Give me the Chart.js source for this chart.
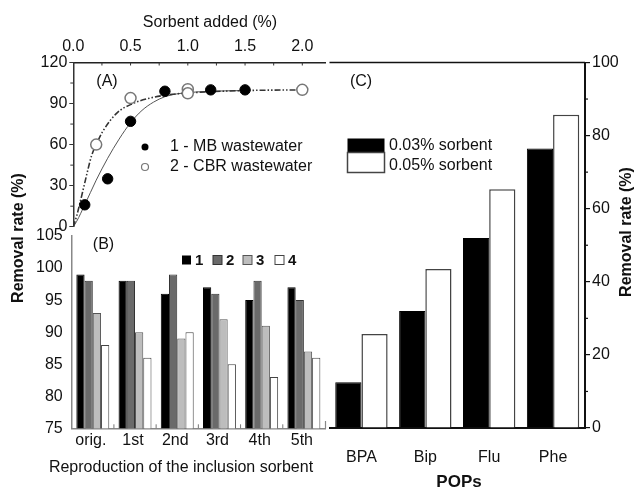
<!DOCTYPE html>
<html><head><meta charset="utf-8">
<script src="https://cdn.jsdelivr.net/npm/chart.js@4.4.0/dist/chart.umd.min.js"></script>
<style>
html,body{margin:0;padding:0;background:#fff;}
#wrap{position:relative;width:636px;height:487px;background:#fff;}
canvas{position:absolute;left:0;top:0;}
</style></head><body>
<div id="wrap">
<canvas id="cB" width="636" height="487"></canvas>
<canvas id="cC" width="636" height="487"></canvas>
<canvas id="cA" width="636" height="487"></canvas>
</div>
<script>
// ---------- Panel A : removal vs sorbent added ----------
const seriesA = ['1 - MB wastewater', '2 - CBR wastewater'];
const mbDose = [0.1, 0.3, 0.5, 0.8, 1.2, 1.5];
const mbRemoval = [16, 35, 77, 99, 100, 100];
const cbrDose = [0.2, 0.5, 1.0, 1.0, 2.0];
const cbrRemoval = [60, 94, 100.5, 97.5, 100];
// fitted curves
const mbFitDose = [0, 0.03, 0.1, 0.2, 0.3, 0.4, 0.5, 0.6, 0.7, 0.8, 0.9, 1.0, 1.2, 1.5];
const mbFitRemoval = [0, 4, 16, 34, 50, 64, 76, 85, 91, 95, 97, 98, 99, 99.5];
const cbrFitDose = [0, 0.03, 0.06, 0.1, 0.16, 0.2, 0.26, 0.38, 0.52, 0.67, 0.84, 1.05, 1.5, 2.0];
const cbrFitRemoval = [0, 8, 18, 32, 52, 60, 70, 83, 90, 94, 96.5, 98, 99.5, 100];
const doseTicks = [0, 0.5, 1.0, 1.5, 2.0];
const doseMinorTicks = [0.25, 0.5, 0.75, 1.0, 1.25, 1.5, 1.75, 2.0];
const removalATicks = [0, 30, 60, 90, 120];
const removalAMinor = [15, 45, 75, 105];

// ---------- Panel B : reproduction cycles ----------
const cycles = ['orig.', '1st', '2nd', '3rd', '4th', '5th'];
const seriesB = ['1', '2', '3', '4'];
const run1 = [99, 98, 96, 97, 95, 97];
const run2 = [98, 98, 99, 96, 98, 95];
const run3 = [93, 90, 89, 92, 91, 87];
const run4 = [88, 86, 90, 85, 83, 86];
const removalBTicks = [75, 80, 85, 90, 95, 100, 105];

// ---------- Panel C : POPs ----------
const pops = ['BPA', 'Bip', 'Flu', 'Phe'];
const seriesC = ['0.03% sorbent', '0.05% sorbent'];
const sorbent003 = [12.5, 32, 52, 76.5];
const sorbent005 = [25.7, 43.5, 65.3, 85.7];
const removalCTicks = [0, 20, 40, 60, 80, 100];
const removalCMinor = [10, 30, 50, 70, 90];

const FONT = '"Liberation Sans", Arial, Helvetica, sans-serif';
const tickFont = {family: FONT, size: 16};
const setTicks = arr => s => { s.ticks = arr.map(v => ({value: v})); };

const minorTicksPlugin = {
  id: 'minorTicks',
  afterDraw(chart, args, opts) {
    const items = opts.items || [];
    const ctx = chart.ctx, ca = chart.chartArea;
    ctx.save();
    items.forEach(it => {
      const s = chart.scales[it.axis];
      ctx.strokeStyle = it.color || '#222';
      ctx.lineWidth = it.width || 1;
      it.values.forEach(v => {
        const p = it.between ? (s.getPixelForValue(v) + s.getPixelForValue(v + 1)) / 2 : s.getPixelForValue(v);
        ctx.beginPath();
        if (s.isHorizontal()) {
          const y0 = s.position === 'top' ? ca.top : ca.bottom;
          const dir = ((s.position === 'top') === (it.side === 'in')) ? 1 : -1;
          ctx.moveTo(p, y0); ctx.lineTo(p, y0 + dir * it.len);
        } else {
          const x0 = s.position === 'left' ? ca.left : ca.right;
          const dir = ((s.position === 'left') === (it.side === 'in')) ? 1 : -1;
          ctx.moveTo(x0, p); ctx.lineTo(x0 + dir * it.len, p);
        }
        ctx.stroke();
      });
    });
    ctx.restore();
  }
};

const textPlugin = {
  id: 'texts',
  afterDraw(chart, args, opts) {
    const ctx = chart.ctx;
    (opts.shapes || []).forEach(sh => {
      ctx.save();
      ctx.lineWidth = sh.lw || 1;
      if (sh.type === 'rect') {
        ctx.fillStyle = sh.fill; ctx.fillRect(sh.x, sh.y, sh.w, sh.h);
        if (sh.stroke) { ctx.strokeStyle = sh.stroke; ctx.strokeRect(sh.x, sh.y, sh.w, sh.h); }
      } else if (sh.type === 'circle') {
        ctx.beginPath(); ctx.arc(sh.x, sh.y, sh.r, 0, Math.PI * 2);
        ctx.fillStyle = sh.fill; ctx.fill();
        if (sh.stroke) { ctx.strokeStyle = sh.stroke; ctx.stroke(); }
      } else if (sh.type === 'line') {
        ctx.strokeStyle = sh.stroke; ctx.beginPath();
        ctx.moveTo(sh.x1, sh.y1); ctx.lineTo(sh.x2, sh.y2); ctx.stroke();
      }
      ctx.restore();
    });
    (opts.items || []).forEach(t => {
      ctx.save();
      ctx.font = t.font || `16px ${FONT}`;
      ctx.fillStyle = t.color || '#111';
      ctx.textAlign = t.align || 'center';
      ctx.textBaseline = 'middle';
      ctx.translate(t.x, t.y);
      if (t.rot) ctx.rotate(t.rot);
      ctx.fillText(t.text, 0, 0);
      ctx.restore();
    });
  }
};

const base = {responsive: false, animation: false, devicePixelRatio: 1, events: []};

// ---------- Chart A ----------
new Chart(document.getElementById('cA'), {
  type: 'scatter',
  plugins: [minorTicksPlugin, textPlugin],
  data: {datasets: [
    {label: 'MB fit', data: mbFitDose.map((x, i) => ({x, y: mbFitRemoval[i]})), showLine: true,
     borderColor: '#555', borderWidth: 1, pointRadius: 0, cubicInterpolationMode: 'monotone', order: 3},
    {label: 'CBR fit', data: cbrFitDose.map((x, i) => ({x, y: cbrFitRemoval[i]})), showLine: true,
     borderColor: '#333', borderWidth: 1.6, borderDash: [6, 2, 1.5, 2, 1.5, 2], pointRadius: 0, cubicInterpolationMode: 'monotone', order: 2},
    {label: seriesA[0], data: mbDose.map((x, i) => ({x, y: mbRemoval[i]})),
     pointRadius: 5.2, pointBackgroundColor: '#000', pointBorderColor: '#000', order: 1},
    {label: seriesA[1], data: cbrDose.map((x, i) => ({x, y: cbrRemoval[i]})),
     pointRadius: 5.5, pointBackgroundColor: '#fff', pointBorderColor: '#777', pointBorderWidth: 1.5, order: 0}
  ]},
  options: Object.assign({}, base, {
    layout: {padding: {left: 0, top: 0, right: 310.8, bottom: 260.3}},
    plugins: {
      legend: {display: false}, tooltip: {enabled: false},
      minorTicks: {items: [
        {axis: 'x', values: doseMinorTicks, len: 3, side: 'in', color: '#333'},
        {axis: 'y', values: removalAMinor, len: 3, side: 'out', color: '#333'}
      ]},
      texts: {
        shapes: [
          {type: 'circle', x: 145, y: 147, r: 3.5, fill: '#000'},
          {type: 'circle', x: 145, y: 167, r: 3.5, fill: '#fff', stroke: '#777', lw: 1.2}
        ],
        items: [
          {text: 'Sorbent added (%)', x: 210, y: 23},
          {text: '(A)', x: 107, y: 82},
          {text: seriesA[0], x: 170, y: 147, align: 'left'},
          {text: seriesA[1], x: 170, y: 167, align: 'left'}
        ]
      }
    },
    scales: {
      x: {type: 'linear', position: 'top', min: 0, max: 2.2,
          afterBuildTicks: setTicks(doseTicks), afterFit: s => { s.height = 62.5; },
          grid: {drawOnChartArea: false, drawTicks: false},
          border: {color: '#222', width: 1.5},
          ticks: {padding: 6, color: '#111', font: tickFont, callback: v => Number(v).toFixed(1), maxRotation: 0}},
      y: {type: 'linear', min: 0, max: 120,
          afterBuildTicks: setTicks(removalATicks), afterFit: s => { s.width = 73.3; },
          grid: {drawOnChartArea: false, tickLength: 4, color: '#333'},
          border: {color: '#333', width: 1.5},
          ticks: {padding: 2, color: '#111', font: tickFont}}
    }
  })
});

// ---------- Chart B ----------
new Chart(document.getElementById('cB'), {
  type: 'bar',
  plugins: [minorTicksPlugin, textPlugin],
  data: {labels: cycles, datasets: [
    {label: seriesB[0], data: run1, backgroundColor: '#000', borderColor: '#000', borderWidth: 1},
    {label: seriesB[1], data: run2, backgroundColor: '#6a6a6a', borderColor: '#333', borderWidth: 1},
    {label: seriesB[2], data: run3, backgroundColor: '#bdbdbd', borderColor: '#555', borderWidth: 1},
    {label: seriesB[3], data: run4, backgroundColor: '#fff', borderColor: '#444', borderWidth: 1}
  ]},
  options: Object.assign({}, base, {
    layout: {padding: {left: 0, top: 236, right: 311, bottom: 0}},
    datasets: {bar: {categoryPercentage: 0.78, barPercentage: 1}},
    plugins: {
      legend: {display: false}, tooltip: {enabled: false},
      minorTicks: {items: [
        {axis: 'x', values: [0, 1, 2, 3, 4], between: true, len: 4, side: 'in', color: '#777'}
      ]},
      texts: {
        shapes: [
          {type: 'rect', x: 182, y: 255.5, w: 9, h: 9, fill: '#000'},
          {type: 'rect', x: 213, y: 255.5, w: 9, h: 9, fill: '#6a6a6a', stroke: '#333'},
          {type: 'rect', x: 243, y: 255.5, w: 9, h: 9, fill: '#bdbdbd', stroke: '#555'},
          {type: 'rect', x: 275, y: 255.5, w: 9, h: 9, fill: '#fff', stroke: '#444'},
          {type: 'line', x1: 325.5, y1: 421, x2: 325.5, y2: 428.5, stroke: '#888', lw: 1.2}
        ],
        items: [
          {text: '(B)', x: 103.5, y: 245},
          {text: seriesB[0], x: 195, y: 260.5, align: 'left', font: `bold 15px ${FONT}`},
          {text: seriesB[1], x: 226, y: 260.5, align: 'left', font: `bold 15px ${FONT}`},
          {text: seriesB[2], x: 256, y: 260.5, align: 'left', font: `bold 15px ${FONT}`},
          {text: seriesB[3], x: 288, y: 260.5, align: 'left', font: `bold 15px ${FONT}`},
          {text: 'Reproduction of the inclusion sorbent', x: 181, y: 468},
          {text: 'Removal rate (%)', x: 19, y: 238, rot: -Math.PI / 2, font: `bold 16px ${FONT}`}
        ]
      }
    },
    scales: {
      x: {afterFit: s => { s.height = 58.7; },
          grid: {drawOnChartArea: false, drawTicks: false},
          border: {color: '#888', width: 1.5},
          ticks: {padding: 3, labelOffset: -2, color: '#111', font: tickFont, maxRotation: 0}},
      y: {min: 75, max: 105, afterBuildTicks: setTicks(removalBTicks), afterFit: s => { s.width = 71.7; },
          grid: {drawOnChartArea: false, drawTicks: false},
          border: {color: '#888', width: 1.5},
          ticks: {padding: 9, color: '#111', font: tickFont}}
    }
  })
});

// ---------- Chart C ----------
new Chart(document.getElementById('cC'), {
  type: 'bar',
  plugins: [minorTicksPlugin, textPlugin],
  data: {labels: pops, datasets: [
    {label: seriesC[0], data: sorbent003, backgroundColor: '#000', borderColor: '#000', borderWidth: 1},
    {label: seriesC[1], data: sorbent005, backgroundColor: '#fff', borderColor: '#444', borderWidth: 1.5}
  ]},
  options: Object.assign({}, base, {
    layout: {padding: {left: 329.5, top: 62.5, right: 0, bottom: 0}},
    datasets: {bar: {categoryPercentage: 0.82, barPercentage: 1}},
    plugins: {
      legend: {display: false}, tooltip: {enabled: false},
      minorTicks: {items: [
        {axis: 'y', values: removalCMinor, len: 3, side: 'out', color: '#111', width: 1.2}
      ]},
      texts: {
        shapes: [
          {type: 'line', x1: 329.5, y1: 62.5, x2: 585, y2: 62.5, stroke: '#111', lw: 1.5},
          {type: 'rect', x: 347.5, y: 138.5, w: 37, h: 14, fill: '#000'},
          {type: 'rect', x: 347.5, y: 152.5, w: 37, h: 20, fill: '#fff', stroke: '#444', lw: 1.5}
        ],
        items: [
          {text: '(C)', x: 361, y: 82},
          {text: seriesC[0], x: 389, y: 146, align: 'left'},
          {text: seriesC[1], x: 389, y: 166, align: 'left'},
          {text: 'POPs', x: 459, y: 482, font: `bold 17px ${FONT}`},
          {text: 'Removal rate (%)', x: 627, y: 232, rot: -Math.PI / 2, font: `bold 16px ${FONT}`}
        ]
      }
    },
    scales: {
      x: {afterFit: s => { s.height = 59; },
          grid: {drawOnChartArea: false, drawTicks: false},
          border: {color: '#111', width: 2},
          ticks: {padding: 20, color: '#111', font: tickFont, maxRotation: 0}},
      y: {position: 'right', min: 0, max: 100, afterBuildTicks: setTicks(removalCTicks), afterFit: s => { s.width = 51; },
          grid: {drawOnChartArea: false, tickLength: 5, color: '#111', lineWidth: 1.2},
          border: {color: '#111', width: 2},
          ticks: {padding: 2, color: '#111', font: tickFont}}
    }
  })
});
</script>
</body></html>
